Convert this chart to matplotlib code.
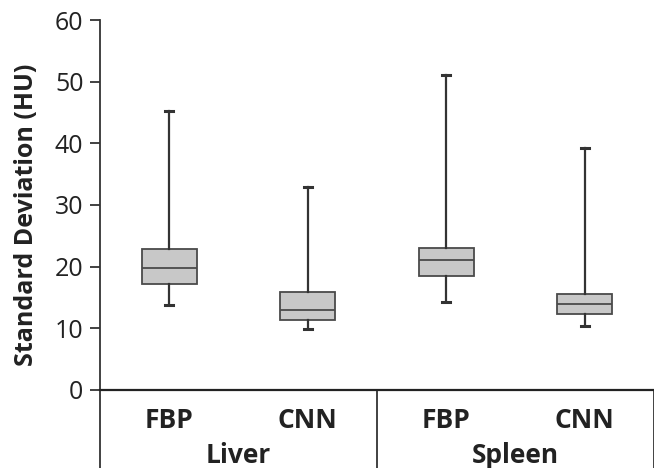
import matplotlib
matplotlib.use("Agg")
import matplotlib.pyplot as plt
import matplotlib.transforms as mtransforms

plt.rcParams['font.family'] = ['Open Sans', 'DejaVu Sans']

groups = ["Liver", "Spleen"]
methods = ["FBP", "CNN"]
whislo = [13.8, 9.9, 14.2, 10.3]
q1 = [17.2, 11.4, 18.4, 12.3]
med = [19.8, 12.9, 21.0, 14.0]
q3 = [22.9, 15.8, 23.0, 15.5]
whishi = [45.2, 32.9, 51.1, 39.2]
yticks = [0, 10, 20, 30, 40, 50, 60]

fig = plt.figure(figsize=(6.54, 4.68), dpi=100)
ax = fig.add_axes([0.153, 0.167, 0.847, 0.790])

stats = []
for i in range(len(med)):
    stats.append(dict(whislo=whislo[i], q1=q1[i], med=med[i], q3=q3[i], whishi=whishi[i], fliers=[]))

positions = list(range(len(med)))
edge = "#4a4a4a"
ax.bxp(stats, positions=positions, widths=0.4, patch_artist=True, showfliers=False,
       boxprops=dict(facecolor="#c8c8c8", edgecolor=edge, linewidth=1.3),
       medianprops=dict(color=edge, linewidth=1.3),
       whiskerprops=dict(color="#333333", linewidth=1.6),
       capprops=dict(color="#333333", linewidth=2.2),
       capwidths=0.06)

ax.set_xlim(-0.5, len(med) - 0.5)
ax.set_ylim(0, 60)
ax.set_yticks(yticks)
ax.set_yticklabels([str(t) for t in yticks], fontsize=18, color="#222222")
ax.tick_params(axis='y', direction='out', length=7, width=1.3, color="#333333", pad=5)
ax.set_xticks([])
for s in ["top", "right"]:
    ax.spines[s].set_visible(False)
ax.spines["left"].set_color("#333333")
ax.spines["left"].set_linewidth(1.3)
ax.spines["bottom"].set_color("#222222")
ax.spines["bottom"].set_linewidth(1.6)
ax.set_ylabel("Standard Deviation (HU)", fontsize=18, fontweight='bold', color="#222222")
ax.yaxis.set_label_coords(-0.11, 0.473)

trans = mtransforms.blended_transform_factory(ax.transData, ax.transAxes)
# separator lines below the axis
n_per = len(methods)
for g in range(len(groups) + 1):
    x = g * n_per - 0.5
    ax.plot([x, x], [0, -0.3], transform=trans, color="#333333", lw=1.3, clip_on=False)

for i in positions:
    ax.text(i, -0.083, methods[i % n_per], transform=trans, ha='center', va='center',
            fontsize=19, fontweight='bold', color="#222222")
for g, name in enumerate(groups):
    ax.text(g * n_per + (n_per - 1) / 2, -0.178, name, transform=trans, ha='center', va='center',
            fontsize=19, fontweight='bold', color="#222222")

fig.savefig("out.png", dpi=100)
